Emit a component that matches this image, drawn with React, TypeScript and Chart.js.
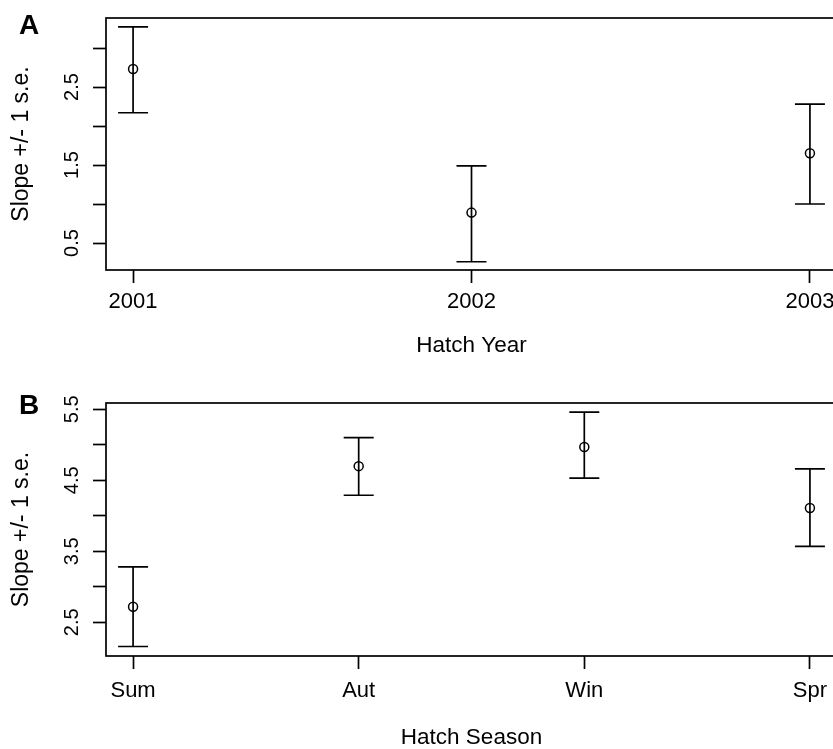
import React, { useEffect, useRef } from 'react';
import { Chart, registerables } from 'chart.js';

Chart.register(...registerables);

// ---------- Panel A data ----------
const yearCategories = ['2001', '2002', '2003'];
const yearPositions = [2001, 2002, 2003];
const yearSlope = [2.73, 0.89, 1.65];
const yearLower = [2.17, 0.26, 1.0];
const yearUpper = [3.27, 1.49, 2.28];
const yearYTicks = [0.5, 1, 1.5, 2, 2.5, 3];
const yearYLabels = [0.5, 1.5, 2.5];

// ---------- Panel B data ----------
const seasonCategories = ['Sum', 'Aut', 'Win', 'Spr'];
const seasonPositions = [1, 2, 3, 4];
const seasonSlope = [2.72, 4.7, 4.97, 4.11];
const seasonLower = [2.16, 4.29, 4.53, 3.57];
const seasonUpper = [3.28, 5.1, 5.46, 4.66];
const seasonYTicks = [2.5, 3, 3.5, 4, 4.5, 5, 5.5];
const seasonYLabels = [2.5, 3.5, 4.5, 5.5];

const FONT = '"Liberation Sans", Arial, Helvetica, sans-serif';
const CANVAS_W = 900;
const LINE_W = 1.7;

const panelPlugin = {
  id: 'panelExtras',
  afterDatasetsDraw(chart: any, _args: any, opts: any) {
    const { ctx, chartArea, scales } = chart;
    const xs = scales.x;
    const ys = scales.y;
    ctx.save();
    ctx.strokeStyle = '#000';
    ctx.lineWidth = LINE_W;
    ctx.strokeRect(
      chartArea.left,
      chartArea.top,
      chartArea.right - chartArea.left,
      chartArea.bottom - chartArea.top
    );
    opts.positions.forEach((p: number, i: number) => {
      const px = xs.getPixelForValue(p);
      const pl = ys.getPixelForValue(opts.lower[i]);
      const pu = ys.getPixelForValue(opts.upper[i]);
      const hw = opts.capHalf;
      ctx.beginPath();
      ctx.moveTo(px, pu);
      ctx.lineTo(px, pl);
      ctx.moveTo(px - hw, pu);
      ctx.lineTo(px + hw, pu);
      ctx.moveTo(px - hw, pl);
      ctx.lineTo(px + hw, pl);
      ctx.stroke();
    });
    ctx.fillStyle = '#000';
    ctx.font = `${opts.tickFontSize}px ${FONT}`;
    ctx.textAlign = 'center';
    ctx.textBaseline = 'alphabetic';
    opts.yLabels.forEach((v: number) => {
      const py = ys.getPixelForValue(v);
      ctx.save();
      ctx.translate(opts.yLabelX, py);
      ctx.rotate(-Math.PI / 2);
      ctx.fillText(v.toFixed(1), 0, 0);
      ctx.restore();
    });
    ctx.font = `bold 28px ${FONT}`;
    ctx.textAlign = 'center';
    ctx.textBaseline = 'alphabetic';
    ctx.fillText(opts.letter, opts.letterX, opts.letterY);
    ctx.restore();
  },
};

type PanelSpec = {
  letter: string;
  letterY: number;
  categories: string[];
  positions: number[];
  slope: number[];
  lower: number[];
  upper: number[];
  yTicks: number[];
  yLabels: number[];
  yMin: number;
  yMax: number;
  xMin: number;
  xMax: number;
  xTitle: string;
  canvasH: number;
  padTop: number;
  xAxisH: number;
  tickPad: number;
  titlePadBottom: number;
};

function Panel({ spec, top }: { spec: PanelSpec; top: number }) {
  const ref = useRef<HTMLCanvasElement | null>(null);
  useEffect(() => {
    if (!ref.current) return;
    const tickFont = { family: FONT, size: 22 };
    const titleFont = { family: FONT, size: 22.5 };
    const gridOpts = {
      display: true,
      drawOnChartArea: false,
      drawTicks: true,
      tickLength: 13,
      tickWidth: LINE_W,
      tickColor: '#000',
    };
    const chart = new Chart(ref.current, {
      type: 'scatter',
      data: {
        datasets: [
          {
            data: spec.positions.map((p, i) => ({ x: p, y: spec.slope[i] })),
            pointRadius: 4.5,
            pointHoverRadius: 4.5,
            pointBorderWidth: 1.5,
            pointBorderColor: '#000',
            pointBackgroundColor: 'rgba(0,0,0,0)',
            showLine: false,
          },
        ],
      },
      options: {
        animation: false,
        responsive: false,
        events: [],
        layout: {
          padding: {
            left: 0,
            right: CANVAS_W - 837,
            top: spec.padTop,
            bottom: 0,
          },
        },
        plugins: {
          legend: { display: false },
          tooltip: { enabled: false },
          panelExtras: {
            letter: spec.letter,
            letterX: 29,
            letterY: spec.letterY,
            positions: spec.positions,
            lower: spec.lower,
            upper: spec.upper,
            yLabels: spec.yLabels,
            yLabelX: 78,
            tickFontSize: 20,
            capHalf: 15,
          },
        } as any,
        scales: {
          x: {
            type: 'linear',
            min: spec.xMin,
            max: spec.xMax,
            afterBuildTicks: (s: any) => {
              s.ticks = spec.positions.map((v) => ({ value: v }));
            },
            afterFit: (s: any) => {
              s.height = spec.xAxisH;
            },
            ticks: {
              autoSkip: false,
              maxRotation: 0,
              minRotation: 0,
              padding: spec.tickPad,
              color: '#000',
              font: tickFont,
              callback: (_v: any, i: number) => spec.categories[i],
            },
            grid: gridOpts,
            border: { display: false },
            title: {
              display: true,
              text: spec.xTitle,
              color: '#000',
              font: titleFont,
              padding: { top: 0, bottom: spec.titlePadBottom },
            },
          },
          y: {
            type: 'linear',
            min: spec.yMin,
            max: spec.yMax,
            afterBuildTicks: (s: any) => {
              s.ticks = spec.yTicks.map((v) => ({ value: v }));
            },
            afterFit: (s: any) => {
              s.width = 106;
            },
            ticks: { display: false },
            grid: gridOpts,
            border: { display: false },
            title: {
              display: true,
              text: 'Slope +/- 1 s.e.',
              color: '#000',
              font: { family: FONT, size: 23 },
              padding: { top: 8, bottom: 0 },
            },
          },
        },
      } as any,
      plugins: [panelPlugin],
    });
    return () => chart.destroy();
  }, [spec]);
  return (
    <div
      style={{
        position: 'absolute',
        left: 0,
        top,
        width: CANVAS_W,
        height: spec.canvasH,
      }}
    >
      <canvas
        ref={ref}
        width={CANVAS_W}
        height={spec.canvasH}
        style={{ width: CANVAS_W, height: spec.canvasH, display: 'block' }}
      />
    </div>
  );
}

const panelA: PanelSpec = {
  letter: 'A',
  letterY: 33.5,
  categories: yearCategories,
  positions: yearPositions,
  slope: yearSlope,
  lower: yearLower,
  upper: yearUpper,
  yTicks: yearYTicks,
  yLabels: yearYLabels,
  yMin: 0.154,
  yMax: 3.385,
  xMin: 2000.92,
  xMax: 2003.08,
  xTitle: 'Hatch Year',
  canvasH: 375,
  padTop: 18,
  xAxisH: 105,
  tickPad: 6,
  titlePadBottom: 16,
};

const panelB: PanelSpec = {
  letter: 'B',
  letterY: 38.5,
  categories: seasonCategories,
  positions: seasonPositions,
  slope: seasonSlope,
  lower: seasonLower,
  upper: seasonUpper,
  yTicks: seasonYTicks,
  yLabels: seasonYLabels,
  yMin: 2.026,
  yMax: 5.589,
  xMin: 0.88,
  xMax: 4.12,
  xTitle: 'Hatch Season',
  canvasH: 385,
  padTop: 28,
  xAxisH: 104,
  tickPad: 9,
  titlePadBottom: 9,
};

export default function App() {
  return (
    <div
      style={{
        position: 'absolute',
        left: 0,
        top: 0,
        width: 833,
        height: 749,
        overflow: 'hidden',
        background: '#fff',
      }}
    >
      <Panel spec={panelA} top={0} />
      <Panel spec={panelB} top={375} />
    </div>
  );
}
